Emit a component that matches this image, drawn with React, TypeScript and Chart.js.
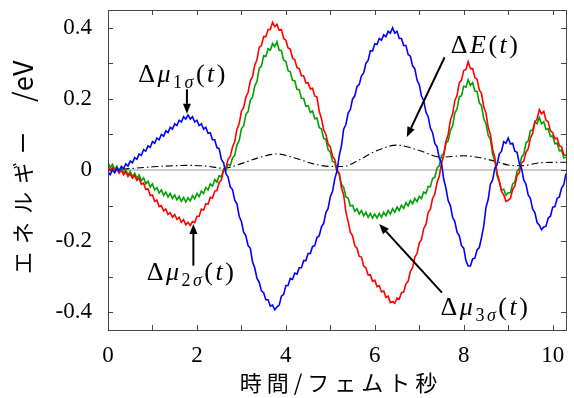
import React, { useEffect, useRef } from 'react';
import { Chart, registerables } from 'chart.js';

Chart.register(...registerables);

// ---- data (energies in meV, sampled every TIME_STEP_FS femtoseconds) ----
const TIME_STEP_FS = 0.05;
const X_MIN = 0;
const X_MAX = 10.3;
const Y_MIN = -0.45;
const Y_MAX = 0.45;

const MU1_MEV = [
  -5, -13, 0, -8, 5, -3, 10, 4, 17, 11, 25, 20, 35, 30, 45, 41, 57, 53, 68, 64,
  80, 75, 90, 85, 100, 95, 110, 105, 120, 115, 130, 125, 140, 135, 150, 143, 155, 143, 150, 135,
  140, 125, 130, 115, 120, 103, 105, 85, 85, 63, 60, 30, 20, -10, -20, -48, -55, -85, -95, -130,
  -145, -175, -185, -213, -220, -258, -275, -305, -315, -340, -345, -365, -365, -383, -380, -393, -385, -380, -355, -350,
  -325, -325, -305, -308, -290, -293, -275, -275, -255, -255, -235, -235, -215, -213, -190, -185, -160, -150, -120, -108,
  -75, -60, -25, -3, 40, 68, 115, 128, 160, 170, 200, 208, 235, 240, 265, 273, 300, 308, 335, 335,
  355, 353, 370, 365, 380, 375, 390, 385, 400, 385, 390, 370, 370, 350, 350, 325, 320, 293, 285, 253,
  240, 208, 195, 163, 150, 118, 105, 75, 65, 33, 20, -26, -51, -86, -100, -133, -145, -175, -185, -213,
  -220, -255, -270, -270, -250, -248, -225, -218, -190, -158, -105, -83, -40, -28, 5, 15, 45, 53, 80, 75,
  90, 73, 75, 53, 50, 18, 5, -28, -40, -70, -80, -110, -120, -148, -155, -168, -160, -158, -135, -130,
  -105, -103, -80, -76, -51, -41, -10,
];

const MU2_MEV = [
  10, -2, 7, -5, 3, -9, 0, -13, -5, -18, -10, -23, -15, -29, -23, -40, -37, -55, -53, -72,
  -70, -88, -85, -103, -100, -115, -110, -125, -120, -133, -125, -139, -133, -147, -140, -154, -147, -156, -145, -148,
  -130, -130, -110, -113, -95, -96, -77, -79, -60, -58, -35, -28, 0, 5, 30, 38, 65, 80, 115, 130,
  165, 175, 205, 218, 250, 263, 295, 310, 345, 350, 375, 375, 395, 395, 415, 403, 410, 393, 395, 370,
  365, 343, 340, 315, 310, 288, 285, 265, 265, 245, 245, 228, 230, 208, 205, 165, 145, 113, 100, 73,
  65, 38, 30, 0, -10, -50, -70, -118, -145, -175, -185, -213, -220, -243, -245, -270, -275, -295, -295, -313,
  -310, -328, -325, -343, -340, -358, -355, -373, -370, -375, -360, -363, -345, -343, -320, -313, -285, -275, -245, -235,
  -205, -195, -165, -153, -120, -110, -80, -68, -35, -18, 20, 40, 80, 100, 140, 158, 195, 210, 245, 253,
  280, 283, 305, 285, 285, 260, 255, 225, 215, 178, 160, 120, 100, 58, 35, -8, -30, -60, -70, -88,
  -85, -80, -55, -45, -15, -8, 20, 25, 50, 60, 90, 103, 135, 143, 170, 158, 165, 140, 135, 110,
  105, 88, 90, 68, 65, 43, 41,
];

const MU3_MEV = [
  21, 7, 16, 2, 11, -4, 6, -9, 1, -14, -4, -19, -9, -24, -14, -30, -22, -39, -32, -48,
  -39, -56, -49, -65, -56, -71, -62, -76, -66, -80, -70, -84, -74, -88, -77, -90, -78, -87, -72, -81,
  -66, -75, -59, -66, -49, -56, -39, -45, -27, -34, -16, -19, 3, -3, 16, 13, 34, 41, 71, 82,
  116, 124, 156, 164, 196, 204, 236, 249, 286, 292, 321, 319, 341, 337, 356, 347, 361, 337, 336, 309,
  306, 279, 276, 252, 251, 227, 226, 202, 201, 179, 181, 162, 166, 144, 146, 119, 116, 89, 86, 57,
  51, 24, 21, -6, -9, -41, -49, -76, -79, -101, -99, -116, -109, -124, -114, -129, -119, -133, -122, -135,
  -124, -135, -122, -133, -119, -129, -114, -124, -109, -119, -104, -114, -99, -108, -92, -101, -86, -95, -80, -89,
  -74, -80, -62, -66, -46, -47, -24, -21, 6, 12, 41, 47, 76, 82, 111, 124, 161, 172, 206, 209,
  236, 233, 254, 238, 246, 222, 221, 189, 181, 144, 131, 97, 86, 44, 26, -16, -34, -56, -54, -71,
  -64, -64, -39, -34, -4, 4, 36, 44, 76, 82, 111, 112, 136, 130, 148, 130, 136, 114, 116, 94,
  96, 74, 76, 54, 56, 34, 36,
];

const DE_TIME = [0, 0.5, 1.0, 1.5, 1.8, 2.2, 2.6, 3.0, 3.4, 3.8, 4.2, 4.6, 5.0, 5.3, 5.6, 6.0, 6.5, 7.0, 7.5, 8.0, 8.3, 8.7, 9.0, 9.3, 9.7, 10.3];
const DE_MEV = [0, 4, 9, 12, 13, 11, 5, 18, 35, 45, 34, 18, 10, 10, 25, 52, 70, 55, 36, 40, 36, 25, 14, 12, 20, 22];

const X_TICKS = [0, 2, 4, 6, 8, 10];
const Y_TICKS = [-0.4, -0.2, 0, 0.2, 0.4];
const X_MINOR_TICKS = [1, 2, 3, 4, 5, 6, 7, 8, 9, 10];
const Y_MINOR_TICKS = [-0.4, -0.3, -0.2, -0.1, 0, 0.1, 0.2, 0.3, 0.4];

const X_TITLE = '時間/フェムト秒';
const Y_TITLE_JP = 'エネルギー';
const Y_TITLE_UNIT = '/eV';

// ---- annotation layout (data coordinates) ----
type Part = { s: string; it?: boolean; sub?: boolean };
const LABELS: { parts: Part[]; t: number; v: number }[] = [
  { parts: [{ s: 'Δ' }, { s: 'μ', it: true }, { s: '1', sub: true }, { s: 'σ', it: true, sub: true }, { s: '(' }, { s: 't', it: true }, { s: ')' }], t: 0.68, v: 0.247 },
  { parts: [{ s: 'Δ' }, { s: 'μ', it: true }, { s: '2', sub: true }, { s: 'σ', it: true, sub: true }, { s: '(' }, { s: 't', it: true }, { s: ')' }], t: 0.87, v: -0.309 },
  { parts: [{ s: 'Δ' }, { s: 'E', it: true }, { s: '(' }, { s: 't', it: true }, { s: ')' }], t: 7.71, v: 0.328 },
  { parts: [{ s: 'Δ' }, { s: 'μ', it: true }, { s: '3', sub: true }, { s: 'σ', it: true, sub: true }, { s: '(' }, { s: 't', it: true }, { s: ')' }], t: 7.48, v: -0.407 },
];
const ARROWS = [
  { t0: 1.775, v0: 0.227, t1: 1.775, v1: 0.158 },
  { t0: 1.92, v0: -0.269, t1: 1.92, v1: -0.152 },
  { t0: 7.57, v0: 0.317, t1: 6.72, v1: 0.093 },
  { t0: 7.51, v0: -0.345, t1: 6.1, v1: -0.152 },
];

const SERIF = "'Liberation Serif', 'Times New Roman', serif";
const CJK = "'Noto Sans CJK JP', 'Noto Sans', sans-serif";

const toPoints = (arr: number[]) => arr.map((v, i) => ({ x: +(i * TIME_STEP_FS).toFixed(2), y: v / 1000 }));

const decorPlugin = {
  id: 'decor',
  afterDraw(chart: any) {
    const ctx = chart.ctx as CanvasRenderingContext2D;
    const { left, right, top, bottom } = chart.chartArea;
    const xs = chart.scales.x;
    const ys = chart.scales.y;
    ctx.save();
    // frame
    ctx.strokeStyle = '#444';
    ctx.lineWidth = 1;
    ctx.strokeRect(Math.round(left) + 0.5, Math.round(top) + 0.5, Math.round(right - left), Math.round(bottom - top));
    // inward ticks on all sides
    const tl = 5;
    ctx.beginPath();
    for (const t of X_MINOR_TICKS) {
      const px = Math.round(xs.getPixelForValue(t)) + 0.5;
      ctx.moveTo(px, bottom); ctx.lineTo(px, bottom - tl);
      ctx.moveTo(px, top); ctx.lineTo(px, top + tl);
    }
    for (const v of Y_MINOR_TICKS) {
      const py = Math.round(ys.getPixelForValue(v)) + 0.5;
      ctx.moveTo(left, py); ctx.lineTo(left + tl, py);
      ctx.moveTo(right, py); ctx.lineTo(right - tl, py);
    }
    ctx.stroke();

    // axis titles
    ctx.fillStyle = '#000';
    ctx.font = `22px ${CJK}`;
    (ctx as any).letterSpacing = '5px';
    ctx.textAlign = 'center';
    ctx.textBaseline = 'middle';
    ctx.fillText(X_TITLE, (left + right) / 2 + 4, 383);
    ctx.save();
    ctx.translate(23, 274);
    ctx.rotate(-Math.PI / 2);
    ctx.textAlign = 'left';
    (ctx as any).letterSpacing = '8px';
    ctx.fillText(Y_TITLE_JP, 0, 0);
    const w = ctx.measureText(Y_TITLE_JP).width;
    (ctx as any).letterSpacing = '1px';
    ctx.font = `27px ${CJK}`;
    ctx.fillText(Y_TITLE_UNIT, w + 22, 0);
    ctx.restore();
    (ctx as any).letterSpacing = '0px';

    // math labels
    const size = 26;
    ctx.textAlign = 'left';
    ctx.textBaseline = 'alphabetic';
    for (const lab of LABELS) {
      let cx = xs.getPixelForValue(lab.t);
      const by = ys.getPixelForValue(lab.v);
      for (const p of lab.parts) {
        const fs = p.sub ? 18 : size;
        ctx.font = `${p.it ? 'italic ' : ''}${fs}px ${SERIF}`;
        ctx.fillText(p.s, cx, by + (p.sub ? 6 : 0));
        cx += ctx.measureText(p.s).width + 2.5;
      }
    }
    // arrows
    ctx.strokeStyle = '#000';
    ctx.fillStyle = '#000';
    ctx.lineWidth = 2;
    for (const a of ARROWS) {
      const x0 = xs.getPixelForValue(a.t0), y0 = ys.getPixelForValue(a.v0);
      const x1 = xs.getPixelForValue(a.t1), y1 = ys.getPixelForValue(a.v1);
      const ang = Math.atan2(y1 - y0, x1 - x0);
      const hl = 10, hw = 4;
      const bx = x1 - hl * Math.cos(ang), byy = y1 - hl * Math.sin(ang);
      ctx.beginPath();
      ctx.moveTo(x0, y0); ctx.lineTo(bx, byy);
      ctx.stroke();
      ctx.beginPath();
      ctx.moveTo(x1, y1);
      ctx.lineTo(bx + hw * Math.sin(ang), byy - hw * Math.cos(ang));
      ctx.lineTo(bx - hw * Math.sin(ang), byy + hw * Math.cos(ang));
      ctx.closePath();
      ctx.fill();
    }
    ctx.restore();
  },
};

export default function App() {
  const ref = useRef<HTMLCanvasElement | null>(null);
  useEffect(() => {
    if (!ref.current) return;
    const lineBase = { pointRadius: 0, borderWidth: 1.6, tension: 0, fill: false };
    const chart = new Chart(ref.current, {
      type: 'line',
      data: {
        datasets: [
          { ...lineBase, label: 'mu1', data: toPoints(MU1_MEV), borderColor: '#0000ff' },
          { ...lineBase, label: 'mu2', data: toPoints(MU2_MEV), borderColor: '#ff0000' },
          { ...lineBase, label: 'mu3', data: toPoints(MU3_MEV), borderColor: '#00a000' },
          {
            ...lineBase, label: 'dE', borderWidth: 1.1, borderColor: '#000', borderDash: [7, 3, 1.5, 3],
            cubicInterpolationMode: 'monotone',
            data: DE_TIME.map((t, i) => ({ x: t, y: DE_MEV[i] / 1000 })),
          },
          { ...lineBase, label: 'zero', borderWidth: 1, borderColor: '#9a9a9a', data: [{ x: X_MIN, y: 0 }, { x: X_MAX, y: 0 }] },
        ],
      } as any,
      options: {
        animation: false,
        responsive: false,
        maintainAspectRatio: false,
        layout: { padding: { top: 10, right: 8, left: 0, bottom: 0 } },
        plugins: { legend: { display: false }, tooltip: { enabled: false } },
        scales: {
          x: {
            type: 'linear', min: X_MIN, max: X_MAX,
            afterBuildTicks: (s: any) => { s.ticks = X_TICKS.map((v) => ({ value: v })); },
            afterFit: (s: any) => { s.height = 68; s.paddingLeft = 0; s.paddingRight = 0; s.paddingTop = 0; s.paddingBottom = 0; },
            grid: { display: false, drawTicks: false },
            border: { display: false },
            ticks: { color: '#000', padding: 12, maxRotation: 0, font: { family: SERIF, size: 23 }, callback: (v: any) => String(v) },
          },
          y: {
            type: 'linear', min: Y_MIN, max: Y_MAX,
            afterBuildTicks: (s: any) => { s.ticks = Y_TICKS.map((v) => ({ value: v })); },
            afterFit: (s: any) => { s.width = 108; s.paddingTop = 0; s.paddingBottom = 0; s.paddingLeft = 0; s.paddingRight = 0; },
            grid: { display: false, drawTicks: false },
            border: { display: false },
            ticks: { color: '#000', padding: 16, font: { family: SERIF, size: 23 }, callback: (v: any) => (v === 0 ? '0' : Number(v).toFixed(1)) },
          },
        },
      } as any,
      plugins: [decorPlugin],
    });
    return () => chart.destroy();
  }, []);
  return (
    <div style={{ position: 'fixed', left: 0, top: 0, width: 574, height: 398, background: '#fff' }}>
      <canvas ref={ref} width={574} height={398} style={{ display: 'block' }} />
    </div>
  );
}
